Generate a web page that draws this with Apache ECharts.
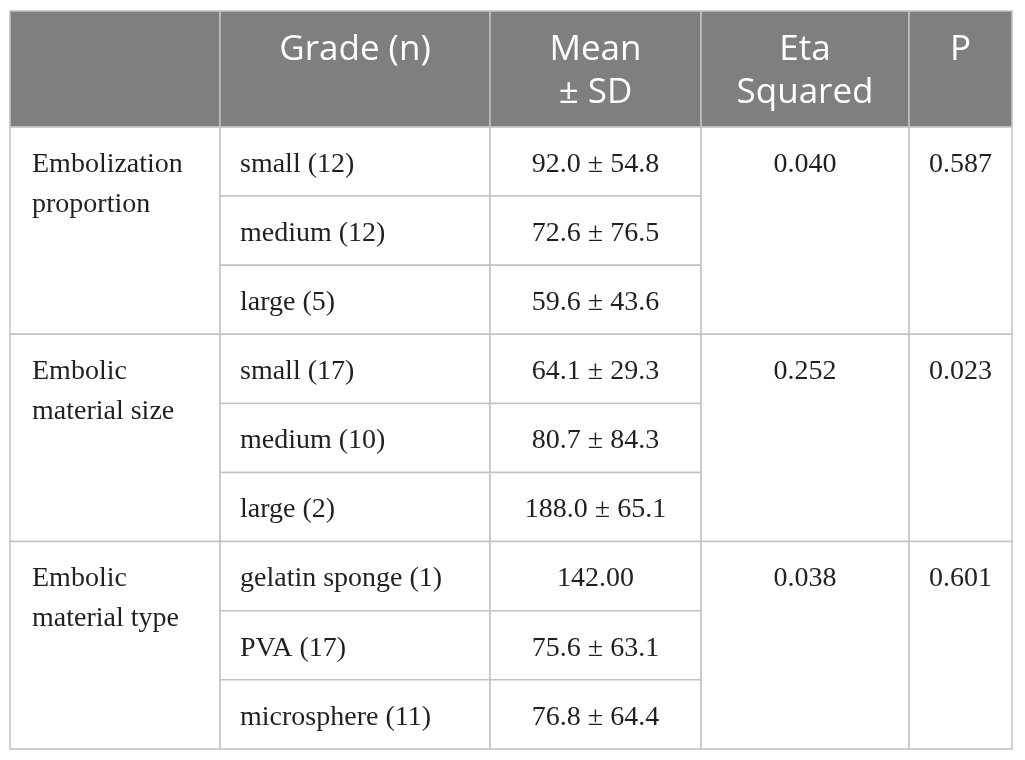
<!DOCTYPE html>
<head>
    <meta charset="utf-8">
    <title>ECharts</title>
    <style>
        html, body { margin: 0; padding: 0; background: #fff; }
    </style>
</head>
<body>
<div id="main" style="width:1025px;height:760px"></div>
<script src="https://cdn.jsdelivr.net/npm/echarts@6/dist/echarts.min.js"></script>
<script type="text/javascript">
// table content
var headers = ['', 'Grade (n)', 'Mean\n± SD', 'Eta\nSquared', 'P'];
var groups = ['Embolization\nproportion', 'Embolic\nmaterial size', 'Embolic\nmaterial type'];
var grades = [
    ['small (12)', 'medium (12)', 'large (5)'],
    ['small (17)', 'medium (10)', 'large (2)'],
    ['gelatin sponge (1)', 'PVA (17)', 'microsphere (11)']
];
var meanSd = [
    ['92.0 ± 54.8', '72.6 ± 76.5', '59.6 ± 43.6'],
    ['64.1 ± 29.3', '80.7 ± 84.3', '188.0 ± 65.1'],
    ['142.00', '75.6 ± 63.1', '76.8 ± 64.4']
];
var etaSquared = ['0.040', '0.252', '0.038'];
var pValues = ['0.587', '0.023', '0.601'];

// grid geometry (axis units = pixels)
var colEdges = [0, 210, 480, 691, 899, 1002];
var headerH = 116;
var rowH = 69.1;
var rowEdges = [0];
for (var i = 0; i <= 9; i++) rowEdges.push(headerH + i * rowH);

// cell list: [col, rowStart, rowSpan, header?, text]
var cells = [];
for (var c = 0; c < headers.length; c++) {
    cells.push({col: c, row: 0, span: 1, head: true, text: headers[c]});
}
for (var g = 0; g < groups.length; g++) {
    var r0 = 1 + g * 3;
    cells.push({col: 0, row: r0, span: 3, text: groups[g]});
    for (var k = 0; k < 3; k++) {
        cells.push({col: 1, row: r0 + k, span: 1, text: grades[g][k]});
        cells.push({col: 2, row: r0 + k, span: 1, text: meanSd[g][k]});
    }
    cells.push({col: 3, row: r0, span: 3, text: etaSquared[g]});
    cells.push({col: 4, row: r0, span: 3, text: pValues[g]});
}

var myChart = echarts.init(document.getElementById('main'));

function renderCell(params, api) {
    var cell = cells[params.dataIndex];
    var p0 = api.coord([colEdges[cell.col], rowEdges[cell.row]]);
    var p1 = api.coord([colEdges[cell.col + 1], rowEdges[cell.row + cell.span]]);
    var w = p1[0] - p0[0], h = p1[1] - p0[1];
    var align = cell.col < 2 ? 'left' : 'center';
    var tx = cell.col === 0 ? p0[0] + 22 : (cell.col === 1 ? p0[0] + 20 : p0[0] + w / 2);
    var text;
    if (cell.head) {
        text = {
            type: 'text',
            style: {
                text: cell.text, x: p0[0] + w / 2, y: p0[1] + 18,
                align: 'center', verticalAlign: 'top',
                font: '35px "Open Sans"', lineHeight: 43, fill: '#ffffff'
            }
        };
    } else {
        text = {
            type: 'text',
            style: {
                text: cell.text, x: tx, y: p0[1] + 17.5,
                align: align, verticalAlign: 'top',
                font: '28px "Liberation Serif"', lineHeight: 40, fill: '#231f20'
            }
        };
    }
    return {
        type: 'group',
        children: [
            {
                type: 'rect',
                shape: {x: p0[0], y: p0[1], width: w, height: h},
                style: {fill: cell.head ? '#7f7f7f' : '#ffffff', stroke: '#c2c2c2', lineWidth: 1.5}
            },
            text
        ]
    };
}

var option = {
    animation: false,
    grid: {left: 10, top: 11, width: 1002, height: 738},
    xAxis: {type: 'value', min: 0, max: 1002, show: false},
    yAxis: {type: 'value', min: 0, max: 738, inverse: true, show: false},
    series: [{
        type: 'custom',
        renderItem: renderCell,
        data: cells.map(function (c) { return [colEdges[c.col], rowEdges[c.row]]; }),
        silent: true
    }]
};
myChart.setOption(option);
</script>
</body>
